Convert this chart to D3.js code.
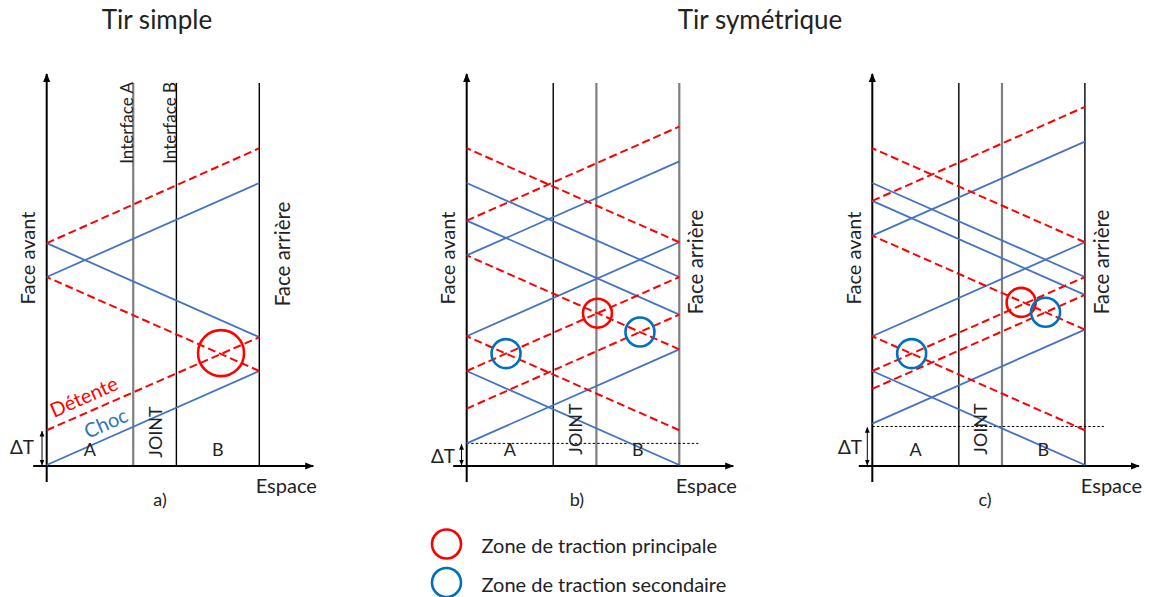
<!DOCTYPE html>
<html>
<head>
<meta charset="utf-8">
<script src="https://cdn.jsdelivr.net/npm/d3@7"></script>
<style>
body { margin: 0; background: #fff; }
text { font-family: Lato, 'Open Sans', sans-serif; fill: #222; }
</style>
</head>
<body>
<svg id="chart" width="1151" height="597"></svg>
<script>
// x = position in the target (0 = face avant, 1 = face arrière), t = time
var titles = ['Tir simple', 'Tir symétrique']
var panelLabels = ['a)', 'b)', 'c)']
var interfaces = [0.407, 0.61]
var zoneLabels = ['A', 'JOINT', 'B']
var legendLabels = ['Zone de traction principale', 'Zone de traction secondaire']

// wave segments [x0, t0, x1, t1]
var chocA = [[0, 0, 1, 1], [1, 1.36, 0, 2.36], [0, 2, 1, 3]]
var detenteA = [[0, 0.37, 1, 1.36], [1, 1, 0, 2], [0, 2.36, 1, 3.37]]

var chocB = [[1, 0, 0, 1], [0, 0.23, 1, 1.23], [1, 1.6, 0, 2.6], [0, 1.37, 1, 2.37], [1, 2, 0, 3], [0, 2.23, 1, 3.23]]
var detenteB = [[0, 0.6, 1, 1.6], [1, 0.37, 0, 1.37], [0, 1, 1, 2], [1, 1.23, 0, 2.23], [0, 2.6, 1, 3.6], [1, 2.37, 0, 3.37]]

var chocC = [[1, 0, 0, 1], [0, 0.44, 1, 1.44], [1, 1.81, 0, 2.81], [0, 1.37, 1, 2.37], [1, 2, 0, 3], [0, 2.44, 1, 3.44]]
var detenteC = [[0, 0.81, 1, 1.81], [1, 0.37, 0, 1.37], [0, 1, 1, 2], [1, 1.44, 0, 2.44], [0, 2.81, 1, 3.81], [1, 2.37, 0, 3.37]]

// traction zones [x, t]
var principalA = [[0.82, 1.19]]
var secondaryA = []
var principalB = [[0.615, 1.615]]
var secondaryB = [[0.185, 1.185], [0.815, 1.415]]
var principalC = [[0.7, 1.73]]
var secondaryC = [[0.185, 1.185], [0.815, 1.625]]

// delta T marker (a: choc -> détente, b/c: delay between both faces)
var deltaT = [0.37, 0.23, 0.41]

var panels = [
    { choc: chocA, detente: detenteA, principal: principalA, secondary: secondaryA },
    { choc: chocB, detente: detenteB, principal: principalB, secondary: secondaryB },
    { choc: chocC, detente: detenteC, principal: principalC, secondary: secondaryC }
]

var panelLeft = [46.7, 466.7, 872.3]
var panelWidth = 212.6
var wallColors = [['#7f7f7f', '#000', '#000'], ['#000', '#7f7f7f', '#7f7f7f'], ['#000', '#7f7f7f', '#000']]
var bigCircle = [23, 14.5, 14.5]

var blue = '#4472c4'
var red = '#ff0000'
var ringBlue = '#0070c0'

var svg = d3.select('#chart')

var defs = svg.append('defs')
function marker(id, size) {
    defs.append('marker')
        .attr('id', id)
        .attr('viewBox', '0 0 10 10')
        .attr('refX', 9)
        .attr('refY', 5)
        .attr('markerUnits', 'userSpaceOnUse')
        .attr('markerWidth', size)
        .attr('markerHeight', size)
        .attr('orient', 'auto-start-reverse')
        .append('path')
        .attr('d', 'M0,1 L10,5 L0,9 Z')
        .attr('fill', '#000')
}
marker('arrow', 9)
marker('small', 6)

var y = d3.scaleLinear().domain([0, 4]).range([465, 89])
var axisY = 466
var wallTop = 83

// titles
svg.append('text').attr('x', 157).attr('y', 28.5).attr('text-anchor', 'middle')
    .attr('font-size', 26).text(titles[0])
svg.append('text').attr('x', 760).attr('y', 28.5).attr('text-anchor', 'middle')
    .attr('font-size', 26).text(titles[1])

panels.forEach(function (p, i) {
    var x = d3.scaleLinear().domain([0, 1]).range([panelLeft[i], panelLeft[i] + panelWidth])
    var g = svg.append('g')

    // walls
    var walls = interfaces.concat([1])
    walls.forEach(function (w, k) {
        g.append('line')
            .attr('x1', x(w)).attr('x2', x(w))
            .attr('y1', axisY).attr('y2', wallTop)
            .attr('stroke', wallColors[i][k])
            .attr('stroke-width', wallColors[i][k] == '#000' ? 1.4 : 2.2)
    })

    // axes
    g.append('line')
        .attr('x1', x(0)).attr('x2', x(0))
        .attr('y1', 482).attr('y2', 74)
        .attr('stroke', '#000').attr('stroke-width', 2)
        .attr('marker-end', 'url(#arrow)')
    g.append('line')
        .attr('x1', x(0) - 13.5).attr('x2', x(1) + 54)
        .attr('y1', axisY).attr('y2', axisY)
        .attr('stroke', '#000').attr('stroke-width', 2)
        .attr('marker-end', 'url(#arrow)')

    // delta T
    if (i > 0) {
        g.append('line')
            .attr('x1', x(0)).attr('x2', x(1) + 19)
            .attr('y1', y(deltaT[i])).attr('y2', y(deltaT[i]))
            .attr('stroke', '#000').attr('stroke-width', 1)
            .attr('stroke-dasharray', '2.5,2')
    }
    var ax = [42, 461.5, 867.3][i]
    g.append('line')
        .attr('x1', ax).attr('x2', ax)
        .attr('y1', y(deltaT[i]) + 1).attr('y2', axisY - 1)
        .attr('stroke', '#000').attr('stroke-width', 1)
        .attr('marker-start', 'url(#small)')
        .attr('marker-end', 'url(#small)')
    g.append('text')
        .attr('x', [22, 443, 850][i])
        .attr('y', [446, 455, 446][i])
        .attr('text-anchor', 'middle').attr('dominant-baseline', 'central')
        .attr('font-size', 19).text('ΔT')

    // waves
    g.selectAll('line.choc').data(p.choc).enter().append('line')
        .attr('class', 'choc')
        .attr('x1', (d) => x(d[0])).attr('y1', (d) => y(d[1]))
        .attr('x2', (d) => x(d[2])).attr('y2', (d) => y(d[3]))
        .attr('stroke', blue).attr('stroke-width', 1.8)

    g.selectAll('line.detente').data(p.detente).enter().append('line')
        .attr('class', 'detente')
        .attr('x1', (d) => x(d[0])).attr('y1', (d) => y(d[1]))
        .attr('x2', (d) => x(d[2])).attr('y2', (d) => y(d[3]))
        .attr('stroke', red).attr('stroke-width', 2)
        .attr('stroke-dasharray', '8,4')

    // traction zones
    g.selectAll('circle.principal').data(p.principal).enter().append('circle')
        .attr('cx', (d) => x(d[0])).attr('cy', (d) => y(d[1]))
        .attr('r', bigCircle[i])
        .attr('fill', 'none').attr('stroke', red).attr('stroke-width', 2.6)
    g.selectAll('circle.secondary').data(p.secondary).enter().append('circle')
        .attr('cx', (d) => x(d[0])).attr('cy', (d) => y(d[1]))
        .attr('r', 14.5)
        .attr('fill', 'none').attr('stroke', ringBlue).attr('stroke-width', 2.6)

    // zone labels
    var mids = [interfaces[0] / 2, (interfaces[0] + interfaces[1]) / 2, (interfaces[1] + 1) / 2]
    zoneLabels.forEach(function (z, k) {
        if (k == 1) {
            g.append('text')
                .attr('transform', 'translate(' + x(mids[k]) + ',' + ((i == 0 ? 432 : 429)) + ')rotate(-90)')
                .attr('text-anchor', 'middle').attr('dominant-baseline', 'central')
                .attr('font-size', 18).text(z)
        } else {
            g.append('text')
                .attr('x', x(mids[k])).attr('y', 449)
                .attr('text-anchor', 'middle').attr('dominant-baseline', 'central')
                .attr('font-size', 18).text(z)
        }
    })

    // face labels
    g.append('text')
        .attr('transform', 'translate(' + (x(0) - 19.5) + ',258)rotate(-90)')
        .attr('text-anchor', 'middle').attr('dominant-baseline', 'central')
        .attr('font-size', 20).text('Face avant')
    g.append('text')
        .attr('transform', 'translate(' + (x(1) + [22.5, 16, 16.5][i]) + ',' + [254, 262, 262][i] + ')rotate(-90)')
        .attr('text-anchor', 'middle').attr('dominant-baseline', 'central')
        .attr('font-size', 20.5).text('Face arrière')

    g.append('text')
        .attr('x', x(1) + [27, 27, 26.5][i]).attr('y', 485)
        .attr('text-anchor', 'middle').attr('dominant-baseline', 'central')
        .attr('font-size', 20).text('Espace')
    g.append('text')
        .attr('x', [160, 577, 985][i]).attr('y', 499)
        .attr('text-anchor', 'middle').attr('dominant-baseline', 'central')
        .attr('font-size', 18).text(panelLabels[i])

    if (i == 0) {
        g.append('text')
            .attr('transform', 'translate(' + (x(interfaces[0]) - 6.5) + ',' + (wallTop - 1) + ')rotate(-90)')
            .attr('text-anchor', 'end').attr('dominant-baseline', 'central')
            .attr('font-size', 17).attr('fill', '#333').text('Interface A')
        g.append('text')
            .attr('transform', 'translate(' + (x(interfaces[1]) - 6.5) + ',' + (wallTop - 1) + ')rotate(-90)')
            .attr('text-anchor', 'end').attr('dominant-baseline', 'central')
            .attr('font-size', 17).attr('fill', '#333').text('Interface B')

        g.append('text')
            .attr('transform', 'translate(54,418)rotate(-24)')
            .attr('font-size', 20).style('fill', red).text('Détente')
        g.append('text')
            .attr('transform', 'translate(88,439)rotate(-24)')
            .attr('font-size', 20).style('fill', '#2e75b6').text('Choc')
    }
})

// legend
var legend = svg.append('g')
legendLabels.forEach(function (l, k) {
    legend.append('circle')
        .attr('cx', 446.5).attr('cy', 544 + k * 38.5)
        .attr('r', 14.5)
        .attr('fill', 'none').attr('stroke', k == 0 ? red : ringBlue).attr('stroke-width', 2.6)
    legend.append('text')
        .attr('x', 481.5).attr('y', 545 + k * 38.5)
        .attr('dominant-baseline', 'central')
        .attr('font-size', 20).text(l)
})
</script>
</body>
</html>
